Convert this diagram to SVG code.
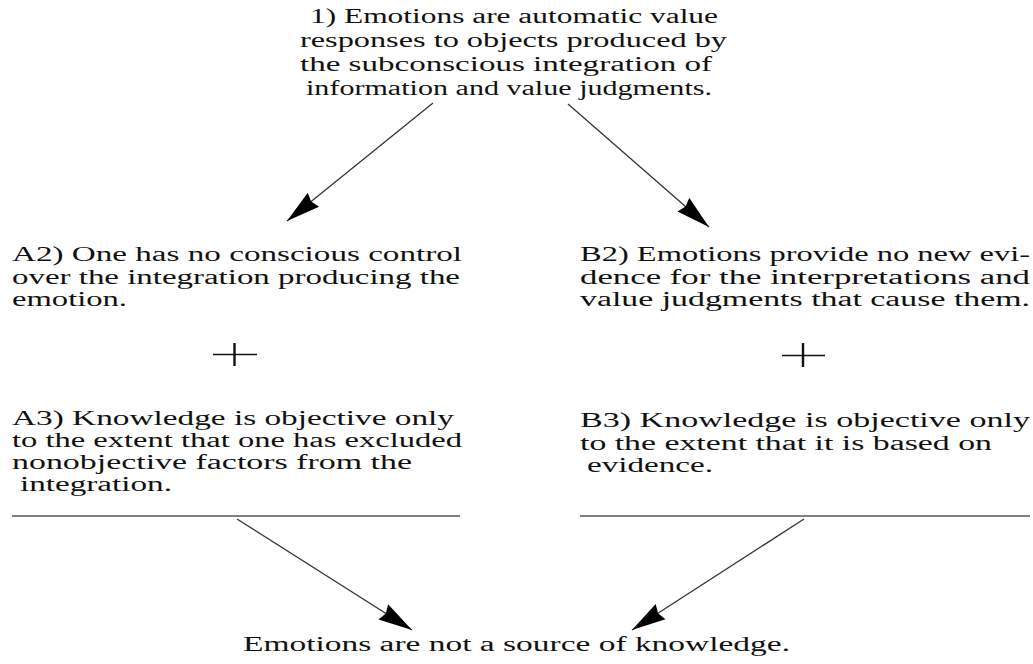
<svg xmlns="http://www.w3.org/2000/svg" width="1033" height="664" viewBox="0 0 1033 664">
<style>
text{font-family:"Liberation Serif","Times New Roman",serif;font-size:20.5px;fill:#111}
.conn{stroke:#333;stroke-width:1.3;fill:none}
.rule{stroke:#555;stroke-width:1.5}
.plus{stroke:#111}
</style>
<defs>
<marker id="ah" markerUnits="userSpaceOnUse" markerWidth="36" markerHeight="20" viewBox="0 0 36 20" refX="34" refY="10" orient="auto">
<path d="M0,1 L34,10 L0,19 L3,10 Z" fill="#000"/>
</marker>
</defs>
<rect width="1033" height="664" fill="#fff"/>
<g id="n1">
<text x="310" y="23" textLength="408" lengthAdjust="spacingAndGlyphs">1) Emotions are automatic value</text>
<text x="300" y="47" textLength="427" lengthAdjust="spacingAndGlyphs">responses to objects produced by</text>
<text x="300" y="71" textLength="412" lengthAdjust="spacingAndGlyphs">the subconscious integration of</text>
<text x="306" y="95" textLength="406" lengthAdjust="spacingAndGlyphs">information and value judgments.</text>
</g>
<g id="a2">
<text x="12" y="261" textLength="450" lengthAdjust="spacingAndGlyphs">A2) One has no conscious control</text>
<text x="12" y="284" textLength="448" lengthAdjust="spacingAndGlyphs">over the integration producing the</text>
<text x="12" y="306" textLength="115" lengthAdjust="spacingAndGlyphs">emotion.</text>
</g>
<g id="b2">
<text x="580" y="261" textLength="450" lengthAdjust="spacingAndGlyphs">B2) Emotions provide no new evi-</text>
<text x="580" y="284" textLength="450" lengthAdjust="spacingAndGlyphs">dence for the interpretations and</text>
<text x="580" y="306" textLength="450" lengthAdjust="spacingAndGlyphs">value judgments that cause them.</text>
</g>
<g id="plusA" class="plus">
<line x1="213" y1="354.5" x2="257" y2="354.5" stroke-width="1.6"/>
<line x1="234.5" y1="343" x2="234.5" y2="366" stroke-width="2.4"/>
</g>
<g id="plusB" class="plus">
<line x1="782" y1="355.5" x2="825" y2="355.5" stroke-width="1.6"/>
<line x1="803" y1="343" x2="803" y2="367" stroke-width="2.4"/>
</g>
<g id="a3">
<text x="12" y="425" textLength="442" lengthAdjust="spacingAndGlyphs">A3) Knowledge is objective only</text>
<text x="12" y="447" textLength="450" lengthAdjust="spacingAndGlyphs">to the extent that one has excluded</text>
<text x="12" y="469" textLength="400" lengthAdjust="spacingAndGlyphs">nonobjective factors from the</text>
<text x="20" y="491" textLength="152" lengthAdjust="spacingAndGlyphs">integration.</text>
</g>
<g id="b3">
<text x="580" y="427" textLength="450" lengthAdjust="spacingAndGlyphs">B3) Knowledge is objective only</text>
<text x="580" y="450" textLength="412" lengthAdjust="spacingAndGlyphs">to the extent that it is based on</text>
<text x="587" y="472" textLength="126" lengthAdjust="spacingAndGlyphs">evidence.</text>
</g>
<g id="rules">
<line class="rule" x1="12" y1="516" x2="460" y2="516"/>
<line class="rule" x1="580" y1="516" x2="1030" y2="516"/>
</g>
<g id="conclusion">
<text x="243" y="651" textLength="547" lengthAdjust="spacingAndGlyphs">Emotions are not a source of knowledge.</text>
</g>
<g id="connectors">
<line class="conn" x1="433" y1="103" x2="287" y2="221" marker-end="url(#ah)"/>
<line class="conn" x1="568" y1="104" x2="709" y2="227" marker-end="url(#ah)"/>
<line class="conn" x1="237" y1="519" x2="412" y2="630" marker-end="url(#ah)"/>
<line class="conn" x1="804" y1="519" x2="632" y2="630" marker-end="url(#ah)"/>
</g>
</svg>
